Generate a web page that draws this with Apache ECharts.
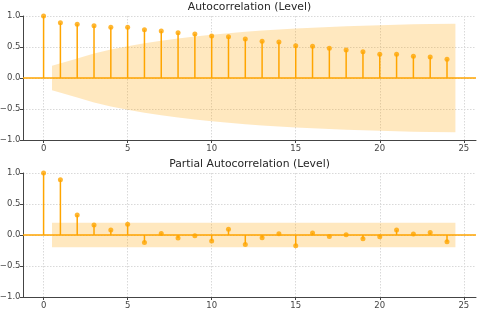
<!DOCTYPE html>
<html>
<head>
<meta charset="utf-8">
<script src="https://cdn.jsdelivr.net/npm/echarts@6/dist/echarts.min.js"></script>
<style>
html,body{margin:0;padding:0;background:#fff;}
#chart{width:480px;height:314px;}
</style>
</head>
<body>
<div id="chart"></div>
<script>
// ---- data ----
const lags = [0,1,2,3,4,5,6,7,8,9,10,11,12,13,14,15,16,17,18,19,20,21,22,23,24];
const acfValues = [1.0,0.89,0.866,0.844,0.817,0.817,0.78,0.758,0.731,0.71,0.677,0.667,0.629,0.591,0.58,0.521,0.511,0.479,0.452,0.425,0.382,0.382,0.35,0.339,0.301];
const pacfValues = [1.0,0.89,0.324,0.162,0.081,0.172,-0.12,0.026,-0.049,-0.011,-0.097,0.091,-0.152,-0.044,0.021,-0.173,0.032,-0.023,0.005,-0.06,-0.028,0.081,0.016,0.042,-0.109];
const bandLags = [0.5,2,3,4,5,6,7,8,9,10,11,12,13,14,15,16,17,18,19,20,21,22,23,24.5];
const acfBand = [0.196,0.315,0.396,0.46,0.513,0.56,0.601,0.636,0.668,0.696,0.721,0.744,0.765,0.782,0.798,0.811,0.823,0.834,0.843,0.852,0.858,0.865,0.87,0.875];
const pacfBand = [0.196,0.196,0.196,0.196,0.196,0.196,0.196,0.196,0.196,0.196,0.196,0.196,0.196,0.196,0.196,0.196,0.196,0.196,0.196,0.196,0.196,0.196,0.196,0.196];
const xTicks = [0,5,10,15,20,25];
const yTicks = [-1.0,-0.5,0.0,0.5,1.0];
const titles = ['Autocorrelation (Level)', 'Partial Autocorrelation (Level)'];

// ---- styling ----
const ORANGE = '#FFA500';
const FONT = 'DejaVu Sans';
const AXIS_COLOR = '#444';
const GRID_COLOR = '#d9d9d9';

function xAxisDef(gi){
  return {
    type:'value', gridIndex:gi, min:-1.225, max:25.725,
    axisLine:{show:true, onZero:false, lineStyle:{color:AXIS_COLOR, width:1}},
    axisTick:{show:true, length:3, customValues:xTicks, lineStyle:{color:AXIS_COLOR}},
    axisLabel:{customValues:xTicks, fontFamily:FONT, fontSize:8.5, color:'#444', margin:4,
      formatter:v=>String(v)},
    splitLine:{show:true, lineStyle:{color:GRID_COLOR, type:[1.5,1.5], width:1}}
  };
}
function yAxisDef(gi){
  return {
    type:'value', gridIndex:gi, min:-1, max:1, interval:0.5,
    axisLine:{show:true, onZero:false, lineStyle:{color:AXIS_COLOR, width:1}},
    axisTick:{show:true, length:3, customValues:yTicks, lineStyle:{color:AXIS_COLOR}},
    axisLabel:{customValues:yTicks, fontFamily:FONT, fontSize:8.5, color:'#444', margin:2.5,
      formatter:v=>v.toFixed(1).replace('-', '\u2212')},
    splitLine:{show:true, lineStyle:{color:GRID_COLOR, type:[1.5,1.5], width:1}}
  };
}

function bandSeries(gi, band){
  return {
    type:'custom', xAxisIndex:gi, yAxisIndex:gi, z:1, silent:true,
    data:[[0,0]],
    renderItem:function(params, api){
      const upper = bandLags.map((x,i)=>api.coord([x, band[i]]));
      const lower = bandLags.map((x,i)=>api.coord([x, -band[i]])).reverse();
      return {type:'polygon', shape:{points:upper.concat(lower)},
        style:{fill:'rgba(255,165,0,0.25)', stroke:null}};
    }
  };
}
function stemSeries(gi, vals){
  return {
    type:'custom', xAxisIndex:gi, yAxisIndex:gi, z:3, silent:true,
    data:lags.map((l,i)=>[l, vals[i]]),
    renderItem:function(params, api){
      const p0 = api.coord([api.value(0), 0]);
      const p1 = api.coord([api.value(0), api.value(1)]);
      return {type:'line', shape:{x1:p0[0], y1:p0[1], x2:p1[0], y2:p1[1]},
        style:{stroke:ORANGE, lineWidth:1.5}};
    }
  };
}
function markerSeries(gi, vals){
  return {
    type:'scatter', xAxisIndex:gi, yAxisIndex:gi, z:4, silent:true,
    symbol:'circle', symbolSize:5, clip:false,
    itemStyle:{color:ORANGE},
    data:lags.map((l,i)=>[l, vals[i]]),
    markLine:{silent:true, symbol:'none', label:{show:false},
      lineStyle:{color:ORANGE, width:1.5, type:'solid'},
      data:[{yAxis:0}]}
  };
}

const option = {
  animation:false,
  backgroundColor:'#fff',
  title:[
    {text:titles[0], left:249.5, textAlign:'center', top:2, padding:0,
     textStyle:{fontFamily:FONT, fontSize:10.8, fontWeight:'normal', color:'#262626'}},
    {text:titles[1], left:249.5, textAlign:'center', top:159, padding:0,
     textStyle:{fontFamily:FONT, fontSize:10.8, fontWeight:'normal', color:'#262626'}}
  ],
  grid:[
    {left:23, top:16, width:453, height:124, outerBoundsMode:'none', containLabel:false},
    {left:23, top:173, width:453, height:124, outerBoundsMode:'none', containLabel:false}
  ],
  xAxis:[xAxisDef(0), xAxisDef(1)],
  yAxis:[yAxisDef(0), yAxisDef(1)],
  series:[
    bandSeries(0, acfBand), stemSeries(0, acfValues), markerSeries(0, acfValues),
    bandSeries(1, pacfBand), stemSeries(1, pacfValues), markerSeries(1, pacfValues)
  ]
};
const chart = echarts.init(document.getElementById('chart'), null, {renderer:'canvas'});
chart.setOption(option);
</script>
</body>
</html>
